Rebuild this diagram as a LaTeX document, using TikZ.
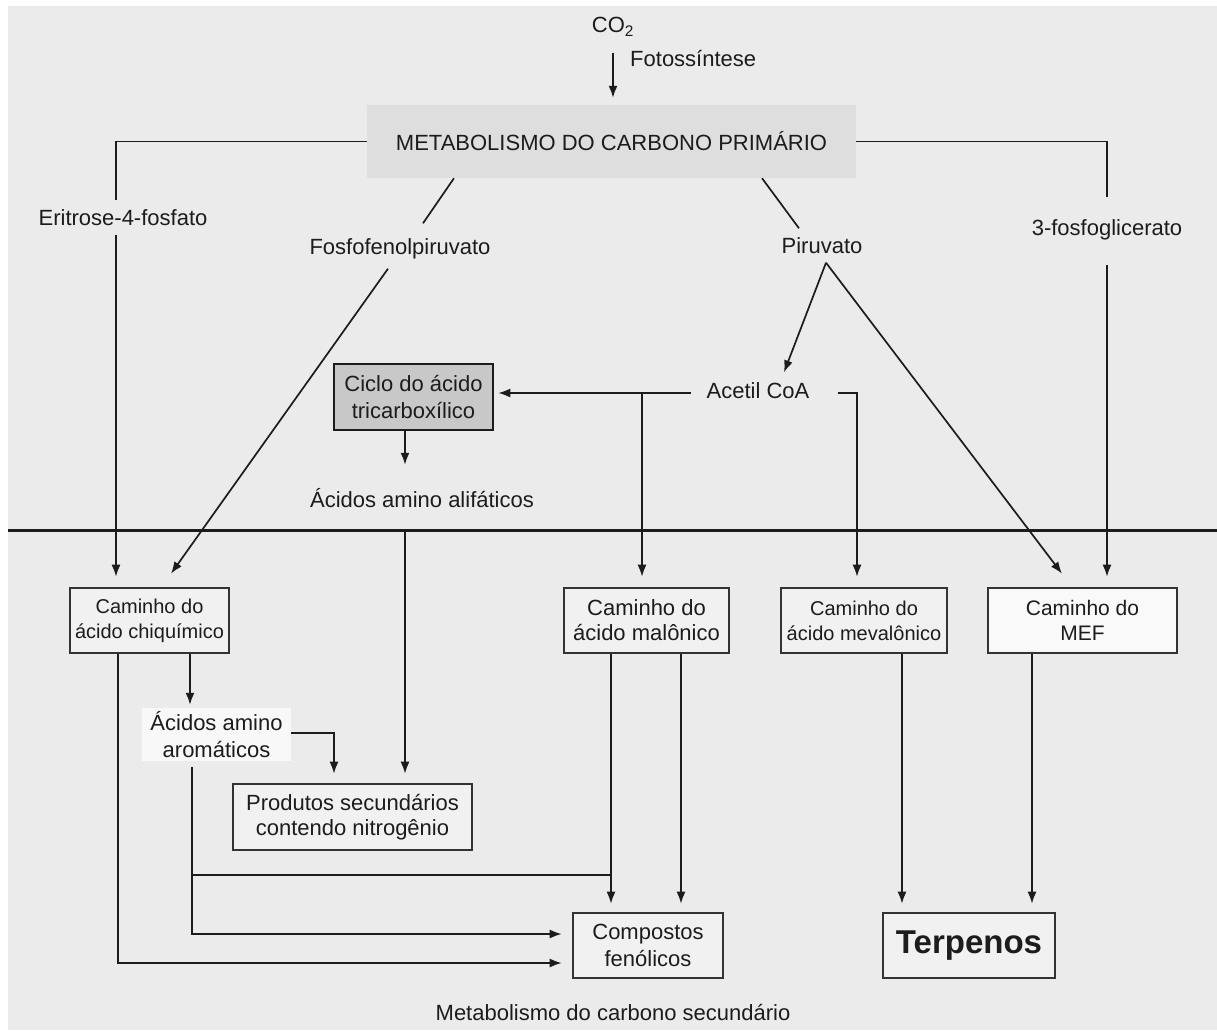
\documentclass[tikz,border=0pt]{standalone}
\usepackage{fontspec}
\setmainfont{Liberation Sans}
\usetikzlibrary{arrows.meta,positioning,calc}
\definecolor{bg}{HTML}{EBEBEB}
\definecolor{primfill}{HTML}{DEDEDE}
\definecolor{tcafill}{HTML}{C8C8C8}
\definecolor{boxfill}{HTML}{F1F1F1}
\definecolor{ink}{HTML}{1C1C1C}
\tikzset{
  link/.style={draw=ink, line width=1.7pt},
  flow/.style={link, -{Latex[length=12pt,width=9pt]}},
  lab/.style={text=ink, font=\fontsize{22}{26}\selectfont, inner xsep=4pt, inner ysep=9pt,
    text height=16pt, text depth=5pt},
  pathbox/.style={draw=ink!90, line width=2.6pt, fill=boxfill, text=ink, align=center,
    inner sep=0pt, minimum height=65pt, font=\fontsize{20}{25}\selectfont},
}
\begin{document}
\begin{tikzpicture}[x=1pt,y=-1pt]
  \useasboundingbox (0,0) rectangle (1217,1030);
  \fill[bg] (8,6) rectangle (1217,1030);

  % primary carbon
  \node[lab] (co2) at (613,27) {CO\textsubscript{2}};
  \node[lab, anchor=west] (foto) at (626,61) {Fotossíntese};
  \node[fill=primfill, text=ink, font=\fontsize{22}{26}\selectfont, minimum width=489pt,
    minimum height=73pt] (prim) at (611.5,141.5) {METABOLISMO DO CARBONO PRIMÁRIO};
  \draw[flow] ([yshift=-6pt]co2.south) -- ([xshift=1.5pt,yshift=7pt]prim.north);

  \node[lab] (eritr) at (123,220) {Eritrose-4-fosfato};
  \node[lab] (fosfo) at (400,249) {Fosfofenolpiruvato};
  \node[lab] (piru) at (822,248) {Piruvato};
  \node[lab] (pgl) at (1107,230) {3-fosfoglicerato};
  \node[lab] (acetil) at (758,393) {Acetil CoA};
  \node[draw=ink, line width=2.6pt, fill=tcafill, text=ink, align=center, inner sep=0pt,
    minimum width=159pt, minimum height=66pt, font=\fontsize{22}{27}\selectfont]
    (tca) at (413.5,397) {Ciclo do ácido\\tricarboxílico};
  \node[lab] (ali) at (422,502) {Ácidos amino alifáticos};

  % border between primary and secondary
  \draw[ink, line width=3pt] (8,530) -- (1217,530);

  % secondary carbon
  \node[pathbox, minimum width=159pt] (chiq) at (149.5,620.5) {Caminho do\\ácido chiquímico};
  \node[pathbox, minimum width=165pt, font=\fontsize{22}{25}\selectfont] (malo) at (646.5,620.5) {Caminho do\\ácido malônico};
  \node[pathbox, minimum width=166pt] (meva) at (864,620.5) {Caminho do\\ácido mevalônico};
  \node[pathbox, minimum width=189pt, fill=white!60!boxfill, font=\fontsize{21}{25}\selectfont] (mef) at (1082.5,620.5) {Caminho do\\MEF};
  \node[fill=white!50!boxfill, text=ink, align=center, minimum width=149pt, minimum height=53pt,
    inner sep=0pt, font=\fontsize{22}{27}\selectfont] (arom) at (216.5,734.5) {Ácidos amino\\aromáticos};
  \node[pathbox, minimum width=239pt, minimum height=66pt, font=\fontsize{22}{25}\selectfont] (prod) at (352.5,817) {Produtos secundários\\contendo nitrogênio};
  \node[pathbox, minimum width=150pt, font=\fontsize{22}{27}\selectfont] (comp) at (648,945.5) {Compostos\\fenólicos};
  \node[pathbox, minimum width=172pt, font=\fontsize{33}{36}\selectfont\bfseries] (terp) at (969,945.5) {Terpenos};
  \node[lab] (sec) at (613,1015) {Metabolismo do carbono secundário};

  % from primary metabolism
  \draw[link] (prim.west) -| ([xshift=-7pt]eritr.north);
  \draw[flow] ([xshift=-7pt,yshift=5pt]eritr.south) -- ([xshift=-33.5pt,yshift=10pt]chiq.north);
  \draw[link] ([xshift=-157.5pt]prim.south) -- ([xshift=23pt,yshift=6pt]fosfo.north);
  \draw[flow] ([xshift=-12pt]fosfo.south) -- ([xshift=21.5pt,yshift=13pt]chiq.north);
  \draw[link] ([xshift=150.5pt]prim.south) -- ([xshift=-23pt]piru.north);
  \coordinate (apex) at ([xshift=4pt,yshift=5pt]piru.south);
  \draw[flow] (apex) -- ([xshift=26pt,yshift=1pt]acetil.north);
  \draw[flow] (apex) -- ([xshift=-20.5pt,yshift=13pt]mef.north);
  \draw[link] (prim.east) -| ([yshift=13pt]pgl.north);
  \draw[flow] ([yshift=-15.5pt]pgl.south) -- ([xshift=24.5pt,yshift=10pt]mef.north);

  % acetyl CoA
  \draw[flow] ([xshift=-11pt]acetil.west) -- ($(tca.east |- acetil.west)+(4,0)$);
  \coordinate (acj) at ($(malo.north |- acetil.west)+(-4.5,0)$);
  \draw[flow] (acj) -- ([xshift=-4.5pt,yshift=10pt]malo.north);
  \draw[flow] ([xshift=24pt]acetil.east) -| ([xshift=-7pt,yshift=10pt]meva.north);
  \draw[flow] ([xshift=-8.5pt]tca.south) -- ([xshift=-17pt,yshift=17.5pt]ali.north);
  \draw[flow] ([xshift=-17pt,yshift=-8pt]ali.south) -- ([xshift=52.5pt,yshift=9pt]prod.north);

  % shikimic acid pathway
  \draw[flow] ([xshift=40.5pt]chiq.south) -- ([xshift=-26.5pt,yshift=3pt]arom.north);
  \draw[flow] ([yshift=1.5pt]arom.east) -| ([xshift=-18.5pt,yshift=9pt]prod.north);
  \draw[flow] ([xshift=-24.5pt,yshift=-6pt]arom.south) |- ([xshift=-10pt,yshift=11.5pt]comp.west);
  \draw[flow] ([xshift=-31.5pt]chiq.south) |- ([xshift=-10pt,yshift=-17.5pt]comp.west);

  % malonic, mevalonic, MEF
  \coordinate (mj) at ($(malo.south)+(-35.5,221)$);
  \draw[link] (mj -| arom.south) ++(-24.5,0) -- (mj);
  \draw[flow] ([xshift=-35.5pt]malo.south) -- ([xshift=-37pt,yshift=8pt]comp.north);
  \draw[flow] ([xshift=34.5pt]malo.south) -- ([xshift=33pt,yshift=8pt]comp.north);
  \draw[flow] ([xshift=38pt]meva.south) -- ([xshift=-67pt,yshift=8pt]terp.north);
  \draw[flow] ([xshift=-50.5pt]mef.south) -- ([xshift=63pt,yshift=8pt]terp.north);
\end{tikzpicture}
\end{document}
